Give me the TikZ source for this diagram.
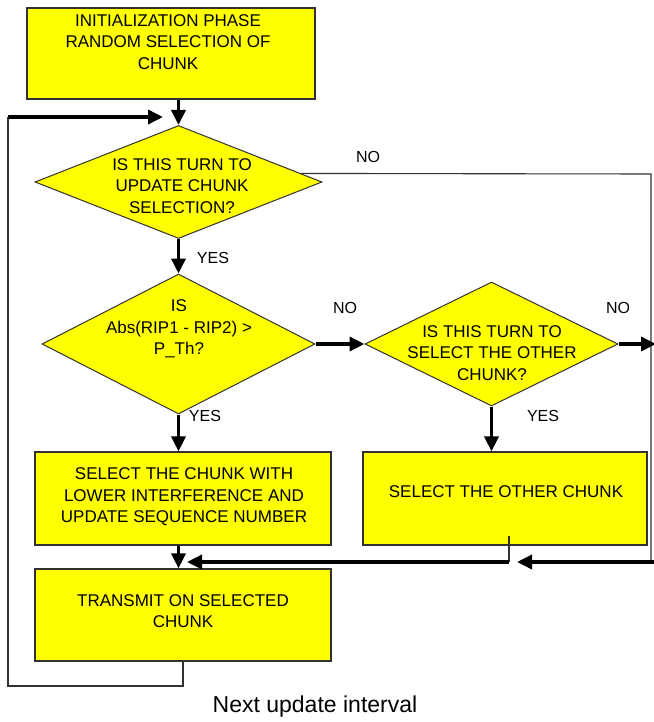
\documentclass[tikz,border=0pt]{standalone}
\usepackage{fontspec}
\setmainfont{Liberation Sans}
\usetikzlibrary{arrows.meta,shapes.geometric,calc}
\definecolor{boxyellow}{RGB}{255,255,0}
\definecolor{edgegray}{RGB}{50,50,50}
\begin{document}
\begin{tikzpicture}[x=1pt,y=-1pt,
  box/.style={draw=edgegray,fill=boxyellow,line width=1.2pt,inner sep=0pt,rectangle},
  dia/.style={draw=edgegray,fill=boxyellow,line width=1pt,inner sep=0pt,diamond},
  txt/.style={font=\fontsize{17}{21.5}\selectfont,align=center,inner sep=0pt},
  lbl/.style={font=\fontsize{16}{18}\selectfont,inner sep=0pt},
  thinline/.style={draw=edgegray,line width=1.1pt},
  flow/.style={draw=black,line width=3.5pt,-{Triangle[length=15pt,width=14pt]}},
  thickline/.style={draw=black,line width=3.5pt}]
\useasboundingbox (0,0) rectangle (653,722);
% boxes
\node[box,minimum width=288pt,minimum height=91pt] (init) at (171,53.5) {};
\node[txt] (initt) at (168,42) {INITIALIZATION PHASE\\RANDOM SELECTION OF\\CHUNK};
\node[dia,minimum width=287pt,minimum height=113pt] (d1) at (178.5,182) {};
\node[txt] (d1t) at (182,186) {IS THIS TURN TO\\UPDATE CHUNK\\SELECTION?};
\node[dia,minimum width=273pt,minimum height=140pt] (d2) at (178.5,344) {};
\node[txt] (d2t) at (179,329) {IS\\Abs(RIP1 - RIP2) >\\P\_Th?};
\node[dia,minimum width=253pt,minimum height=124pt] (d3) at (491.5,344) {};
\node[txt] (d3t) at (492,353) {IS THIS TURN TO\\SELECT THE OTHER\\CHUNK?};
\node[box,minimum width=296pt,minimum height=93pt] (b3) at (183,498.5) {};
\node[txt] (b3t) at (184,497) {SELECT THE CHUNK WITH\\LOWER INTERFERENCE AND\\UPDATE SEQUENCE NUMBER};
\node[box,minimum width=284pt,minimum height=93pt] (b4) at (505,498.5) {};
\node[txt] (b4t) at (506,492) {SELECT THE OTHER CHUNK};
\node[box,minimum width=296pt,minimum height=92pt] (b5) at (183,615) {};
\node[txt] (b5t) at (183,611) {TRANSMIT ON SELECTED\\CHUNK};
% coordinates
\coordinate (fbB) at (8,686);
\coordinate (fbL) at (8,117);
\coordinate (fbT) at (163,117);
\coordinate (rTop) at (651,174);
\coordinate (rBot) at (651,562);
\coordinate (rEdge) at (660,562);
\coordinate (rJ) at (517,562);
\coordinate (mIn) at (509,536);
\coordinate (mJ) at (509,562);
\coordinate (mT) at (187,562);
\coordinate (eR) at (656,344);
% connectors
\draw[flow] (d1.north |- init.south) -- (d1.north);
\draw[thinline] (b5.south) -- (b5.south |- fbB) -- (fbB) -- (fbL);
\draw[flow] (fbL) -- (fbT);
\draw[thinline] (d1.4) -- (rTop) -- (rBot);
\draw[flow] (rEdge) -- (rJ);
\draw[flow] (d2.north |- d1.south) -- (d2.north);
\draw[flow] (d2.east) -- (d3.west);
\draw[flow] (d3.east) -- (eR);
\draw[flow] (d2.south) -- (d2.south |- b3.north);
\draw[flow] (d3.south) -- (d3.south |- b4.north);
\draw[flow] (d2.south |- b3.south) -- (d2.south |- b5.north);
\draw[thinline] (mIn) -- (mJ);
\draw[flow] (mJ) -- (mT);
% labels
\node[lbl] (no1) at (368,157) {NO};
\node[lbl] (yes1) at (213,258) {YES};
\node[lbl] (no2) at (345,308) {NO};
\node[lbl] (no3) at (618,308) {NO};
\node[lbl] (yes2) at (205,416) {YES};
\node[lbl] (yes3) at (543,416) {YES};
\node[font=\fontsize{23}{26}\selectfont,inner sep=0pt] (next) at (315,707) {Next update interval};
\end{tikzpicture}
\end{document}
